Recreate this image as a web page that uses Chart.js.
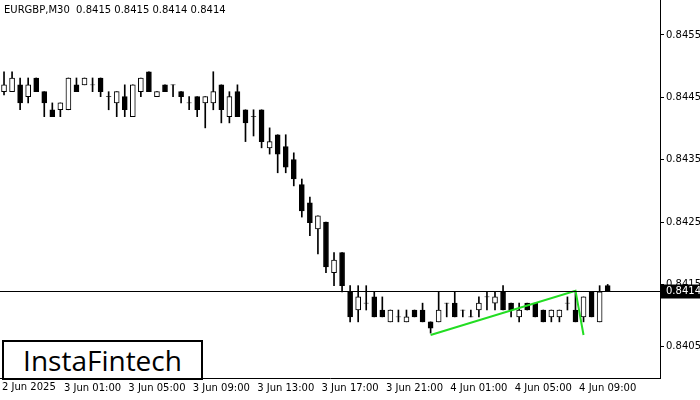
<!DOCTYPE html>
<html>
<head>
<meta charset="utf-8">
<script src="https://cdn.jsdelivr.net/npm/chart.js@4"></script>
<style>
  body { margin: 0; background: #fff; }
  #wrap { position: relative; width: 700px; height: 400px; }
  #title { position: absolute; left: 4px; top: 4px; font: 10px "DejaVu Sans", sans-serif; color: #000; }
  #logo { position: absolute; left: 2px; top: 340px; width: 197px; height: 36px; border: 2px solid #000; background: #fff;
          font: 28px "Open Sans", sans-serif; line-height: 36px; text-align: center; color: #000; }
</style>
</head>
<body>
<div id="wrap">
  <canvas id="chart" width="700" height="400"></canvas>
  <div id="title">EURGBP,M30&nbsp; 0.8415 0.8415 0.8414 0.8414</div>
  <div id="logo">InstaFintech</div>
</div>
<script>
// candle data (pips above 0.8, i.e. 8447.0 -> 0.84470)
const opens  = [8445.9,8445.9,8447.0,8445.1,8448.1,8445.9,8443.0,8443.0,8443.0,8447.0,8447.0,8447.0,8448.1,8445.1,8444.1,8445.1,8441.9,8445.9,8449.1,8445.1,
                8447.0,8447.0,8445.9,8444.1,8445.1,8444.1,8444.1,8447.0,8441.9,8445.9,8443.0,8441.9,8443.0,8436.9,8439.0,8437.1,8435.0,8431.0,8428.1,8423.9,
                8425.0,8416.9,8420.1,8413.8,8410.9,8412.0,8413.0,8410.9,8409.0,8409.8,8409.0,8410.9,8410.9,8409.0,8409.0,8412.0,8412.0,8410.9,8409.8,8410.9,
                8413.0,8412.0,8413.8,8412.0,8409.8,8412.0,8412.0,8410.9,8409.8,8409.8,8412.0,8410.9,8409.8,8413.8,8409.0,8414.8];
const closes = [8447.0,8448.1,8444.1,8447.0,8445.9,8444.1,8441.9,8444.1,8448.1,8445.9,8448.1,8447.0,8445.9,8445.0,8445.9,8443.0,8447.0,8448.1,8445.9,8445.9,
                8445.9,8447.0,8445.1,8444.1,8443.0,8445.1,8445.9,8443.0,8445.1,8441.9,8440.9,8441.9,8437.9,8437.9,8435.9,8433.8,8431.9,8426.8,8424.9,8426.0,
                8417.8,8418.9,8414.8,8409.8,8413.0,8412.0,8409.8,8409.8,8410.9,8409.8,8409.8,8409.8,8409.0,8408.0,8410.9,8412.0,8409.8,8410.9,8409.8,8412.0,
                8413.0,8413.0,8410.9,8410.9,8410.9,8410.9,8409.8,8409.0,8410.9,8410.9,8412.0,8409.0,8413.0,8409.8,8413.8,8414.0];
const highs  = [8449.1,8449.1,8448.1,8448.1,8448.1,8445.9,8444.1,8444.1,8448.1,8448.1,8448.1,8448.1,8448.1,8445.9,8445.9,8447.0,8447.0,8448.1,8449.1,8445.9,
                8447.0,8447.0,8445.9,8445.1,8445.1,8445.1,8449.1,8447.0,8445.9,8447.0,8443.0,8443.0,8443.0,8440.1,8439.0,8439.0,8436.1,8431.9,8429.0,8426.0,
                8425.0,8420.1,8420.1,8414.8,8414.8,8414.8,8413.8,8413.0,8410.9,8410.9,8410.9,8410.9,8412.0,8409.0,8413.8,8412.0,8413.8,8410.9,8410.9,8413.0,
                8413.8,8413.8,8414.8,8412.0,8412.0,8412.0,8412.0,8410.9,8410.9,8410.9,8413.0,8413.8,8413.0,8413.8,8414.8,8415.0];
const lows   = [8445.4,8445.9,8443.0,8444.1,8445.9,8441.9,8441.9,8441.9,8443.0,8445.9,8447.0,8445.9,8445.1,8443.0,8441.9,8441.9,8441.9,8445.1,8445.9,8445.1,
                8445.9,8445.1,8444.1,8443.0,8441.9,8440.1,8443.0,8440.9,8440.9,8441.9,8437.9,8438.8,8436.9,8435.9,8432.9,8432.9,8430.8,8425.8,8422.8,8419.9,
                8416.9,8414.8,8413.8,8409.0,8409.0,8410.9,8409.8,8409.8,8409.0,8409.0,8409.0,8409.8,8409.0,8407.2,8409.0,8409.8,8409.8,8409.8,8409.8,8409.8,
                8410.9,8410.9,8410.9,8409.8,8409.0,8410.9,8409.8,8409.0,8409.0,8409.0,8410.9,8409.0,8409.0,8409.8,8409.0,8414.0];
const timeLabels = {0: "2 Jun 2025", 11: "3 Jun 01:00", 19: "3 Jun 05:00", 27: "3 Jun 09:00", 35: "3 Jun 13:00",
                    43: "3 Jun 17:00", 51: "3 Jun 21:00", 59: "4 Jun 01:00", 67: "4 Jun 05:00", 75: "4 Jun 09:00"};
const priceTicks = [0.8405, 0.8415, 0.8425, 0.8435, 0.8445, 0.8455];
const patternIdx = [53, 71, 72];
const patternVal = [0.84069, 0.84140, 0.84069];
const lastPrice = 0.8414;

const totalSlots = 82;
const labels = [];
for (let i = 0; i < totalSlots; i++) labels.push(timeLabels[i] || "");

const px = v => v / 10000;
const bodies = opens.map((o, i) => {
  const c = closes[i];
  if (Math.abs(o - c) < 0.2) return [px(o) - 0.0000008, px(o) + 0.0000008];
  return [px(Math.min(o, c)), px(Math.max(o, c))];
});
const wicks = highs.map((h, i) => [px(lows[i]), px(h)]);
const bodyFill = opens.map((o, i) => closes[i] > o + 0.2 ? "#ffffff" : "#000000");
const pattern = labels.map(() => null);
patternIdx.forEach((k, j) => pattern[k] = patternVal[j]);

const priceLine = {
  id: "priceLine",
  afterDatasetsDraw(chart) {
    const { ctx, chartArea, scales } = chart;
    const y = Math.round(scales.y.getPixelForValue(lastPrice)) + 0.5;
    ctx.save();
    ctx.strokeStyle = "#000";
    ctx.lineWidth = 1;
    ctx.beginPath();
    ctx.moveTo(chartArea.left, y);
    ctx.lineTo(chartArea.right, y);
    ctx.stroke();
    ctx.fillStyle = "#000";
    ctx.fillRect(chartArea.right, y - 7, 40, 14);
    ctx.fillStyle = "#fff";
    ctx.font = "10px 'DejaVu Sans', sans-serif";
    ctx.textBaseline = "middle";
    ctx.fillText(lastPrice.toFixed(4), chartArea.right + 6, y);
    // first date label, left-aligned like the terminal does it
    ctx.fillStyle = "#000";
    ctx.textBaseline = "top";
    ctx.fillText(labels[0], 2, chartArea.bottom + 4);
    ctx.restore();
  }
};

new Chart(document.getElementById("chart"), {
  type: "bar",
  data: {
    labels: labels,
    datasets: [
      { type: "line", data: pattern, borderColor: "#22dd22", borderWidth: 2, pointRadius: 0, spanGaps: true, order: 0 },
      { data: bodies, backgroundColor: bodyFill, borderColor: "#000", borderWidth: 1, borderSkipped: false,
        barThickness: 5, grouped: false, order: 1 },
      { data: wicks, backgroundColor: "#000", barThickness: 1, grouped: false, order: 2 }
    ]
  },
  options: {
    responsive: false,
    animation: false,
    layout: { padding: 0 },
    plugins: { legend: { display: false }, tooltip: { enabled: false } },
    scales: {
      x: {
        offset: true,
        grid: { display: false },
        border: { color: "#000" },
        ticks: { autoSkip: false, maxRotation: 0, color: "#000", font: { size: 10, family: "DejaVu Sans" }, padding: -4,
                 callback: (v, i) => i === 0 ? "" : labels[i] },
        afterFit: s => { s.height = 22; s.paddingLeft = 0; s.paddingRight = 0; }
      },
      y: {
        position: "right",
        min: 0.84000, max: 0.84606,
        grid: { drawOnChartArea: false, tickLength: 4, color: "#000" },
        border: { color: "#000" },
        afterBuildTicks: s => { s.ticks = priceTicks.map(v => ({ value: v })); },
        ticks: { color: "#000", font: { size: 10, family: "DejaVu Sans" }, padding: 2, callback: v => v.toFixed(4) },
        afterFit: s => { s.width = 40; s.paddingTop = 0; s.paddingBottom = 0; }
      }
    }
  },
  plugins: [priceLine]
});
</script>
</body>
</html>
